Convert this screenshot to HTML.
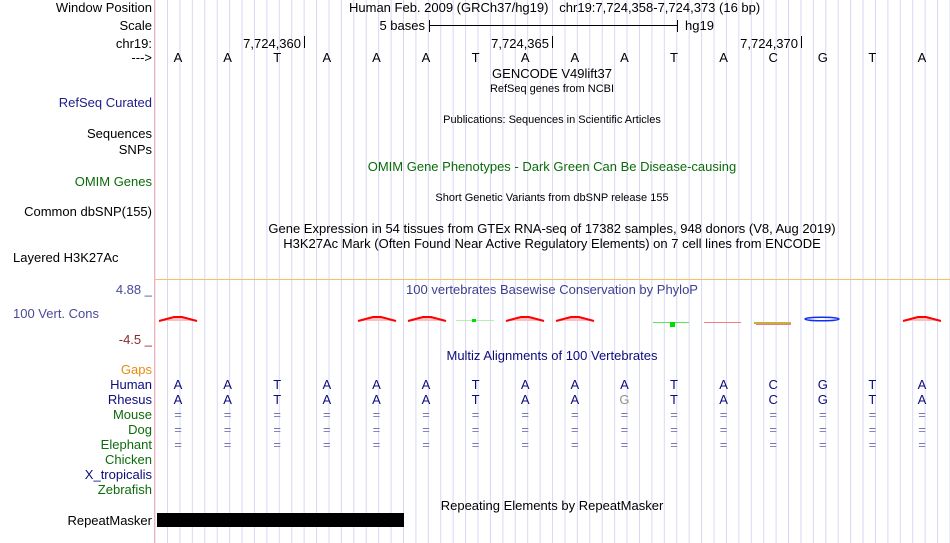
<!DOCTYPE html>
<html><head><meta charset="utf-8"><style>
html,body{margin:0;padding:0;background:#fff;width:950px;height:543px;overflow:hidden}
svg{display:block}
text{font-family:"Liberation Sans",sans-serif;font-size:13px}
.r{text-anchor:end}.c{text-anchor:middle}
.s{font-size:11px}
</style></head><body>
<svg width="950" height="543" viewBox="0 0 950 543" xmlns="http://www.w3.org/2000/svg">
<defs><pattern id="g" x="154.6" y="0" width="12.42" height="20" patternUnits="userSpaceOnUse"><rect x="0" y="0" width="1" height="20" fill="#d8d8f4"/></pattern></defs>
<rect x="155" y="0" width="795" height="543" fill="url(#g)"/>
<rect x="154" y="0" width="1" height="543" fill="#f4b0b0"/>
<rect x="155" y="279" width="795" height="1" fill="#f8c060"/>

<!-- left labels -->
<text x="152" y="12" class="r">Window Position</text>
<text x="152" y="30" class="r">Scale</text>
<text x="152" y="48" class="r">chr19:</text>
<text x="152" y="62" class="r">---&gt;</text>
<text x="152" y="107" class="r" fill="#1c1c8c">RefSeq Curated</text>
<text x="152" y="138" class="r">Sequences</text>
<text x="152" y="154" class="r">SNPs</text>
<text x="152" y="186" class="r" fill="#0b6b0b">OMIM Genes</text>
<text x="152" y="216" class="r">Common dbSNP(155)</text>
<text x="13" y="262">Layered H3K27Ac</text>
<text x="152" y="294" class="r" fill="#4a4a98">4.88 _</text>
<text x="13" y="318" fill="#4a4a98">100 Vert. Cons</text>
<text x="152" y="344" class="r" fill="#8c2a2a">-4.5 _</text>
<text x="152" y="374" class="r" fill="#e88c10">Gaps</text>
<text x="152" y="389" class="r" fill="#0c0c7c">Human</text>
<text x="152" y="404" class="r" fill="#0c0c7c">Rhesus</text>
<text x="152" y="419" class="r" fill="#0b6b0b">Mouse</text>
<text x="152" y="434" class="r" fill="#0b6b0b">Dog</text>
<text x="152" y="449" class="r" fill="#0b6b0b">Elephant</text>
<text x="152" y="464" class="r" fill="#0b6b0b">Chicken</text>
<text x="152" y="479" class="r" fill="#0c0c7c">X_tropicalis</text>
<text x="152" y="494" class="r" fill="#0b6b0b">Zebrafish</text>
<text x="152" y="525" class="r">RepeatMasker</text>

<!-- header -->
<text x="349" y="12">Human Feb. 2009 (GRCh37/hg19)&#160;&#160;&#160;chr19:7,724,358-7,724,373 (16 bp)</text>
<text x="425" y="30" class="r">5 bases</text>
<rect x="429" y="20" width="1" height="12" fill="#000"/>
<rect x="429" y="25" width="249" height="1" fill="#000"/>
<rect x="677" y="20" width="1" height="12" fill="#000"/>
<text x="685" y="30">hg19</text>
<text x="301" y="48" class="r">7,724,360</text><rect x="304" y="36" width="1" height="12" fill="#000"/>
<text x="549" y="48" class="r">7,724,365</text><rect x="552" y="36" width="1" height="12" fill="#000"/>
<text x="798" y="48" class="r">7,724,370</text><rect x="801" y="36" width="1" height="12" fill="#000"/>

<g>
<text x="178" y="62" class="c">A</text><text x="227.6" y="62" class="c">A</text><text x="277.2" y="62" class="c">T</text><text x="326.8" y="62" class="c">A</text><text x="376.4" y="62" class="c">A</text><text x="426" y="62" class="c">A</text><text x="475.6" y="62" class="c">T</text><text x="525.2" y="62" class="c">A</text><text x="574.8" y="62" class="c">A</text><text x="624.4" y="62" class="c">A</text><text x="674" y="62" class="c">T</text><text x="723.6" y="62" class="c">A</text><text x="773.2" y="62" class="c">C</text><text x="822.8" y="62" class="c">G</text><text x="872.4" y="62" class="c">T</text><text x="922" y="62" class="c">A</text>
</g>

<text x="552" y="78" class="c">GENCODE V49lift37</text>
<text x="552" y="92" class="c s">RefSeq genes from NCBI</text>
<text x="552" y="123" class="c s">Publications: Sequences in Scientific Articles</text>
<text x="552" y="171" class="c" fill="#0b6b0b">OMIM Gene Phenotypes - Dark Green Can Be Disease-causing</text>
<text x="552" y="201" class="c s">Short Genetic Variants from dbSNP release 155</text>
<text x="552" y="233" class="c">Gene Expression in 54 tissues from GTEx RNA-seq of 17382 samples, 948 donors (V8, Aug 2019)</text>
<text x="552" y="248" class="c">H3K27Ac Mark (Often Found Near Active Regulatory Elements) on 7 cell lines from ENCODE</text>
<text x="552" y="294" class="c" fill="#3e3e90">100 vertebrates Basewise Conservation by PhyloP</text>

<!-- conservation glyphs -->
<g fill="#f8c0c0" stroke="#f00" stroke-width="2">
<polyline points="159,321 174,317 182,317 197,321"/>
<polyline points="358,321 373,317 381,317 396,321"/>
<polyline points="408,321 423,317 431,317 446,321"/>
<polyline points="506,321 521,317 529,317 544,321"/>
<polyline points="556,321 571,317 579,317 594,321"/>
<polyline points="903,321 918,317 926,317 941,321"/>
</g>
<rect x="456" y="320" width="38" height="1" fill="#b0f0b0"/><rect x="472" y="319" width="4" height="3" fill="#0d0"/>
<rect x="653" y="322" width="36" height="1" fill="#60e060"/><rect x="670" y="322" width="5" height="5" fill="#0d0"/>
<rect x="704" y="322" width="37" height="1" fill="#f08080"/>
<rect x="754" y="322" width="37" height="2" fill="#c8b040"/><rect x="756" y="324" width="35" height="1" fill="#e08080"/>
<ellipse cx="822" cy="319" rx="17" ry="1.8" fill="none" stroke="#1030f0" stroke-width="1.5"/>

<text x="552" y="360" class="c" fill="#0c0c7c">Multiz Alignments of 100 Vertebrates</text>

<g fill="#0c0c7c">
<text x="178" y="389" class="c">A</text><text x="227.6" y="389" class="c">A</text><text x="277.2" y="389" class="c">T</text><text x="326.8" y="389" class="c">A</text><text x="376.4" y="389" class="c">A</text><text x="426" y="389" class="c">A</text><text x="475.6" y="389" class="c">T</text><text x="525.2" y="389" class="c">A</text><text x="574.8" y="389" class="c">A</text><text x="624.4" y="389" class="c">A</text><text x="674" y="389" class="c">T</text><text x="723.6" y="389" class="c">A</text><text x="773.2" y="389" class="c">C</text><text x="822.8" y="389" class="c">G</text><text x="872.4" y="389" class="c">T</text><text x="922" y="389" class="c">A</text>
<text x="178" y="404" class="c">A</text><text x="227.6" y="404" class="c">A</text><text x="277.2" y="404" class="c">T</text><text x="326.8" y="404" class="c">A</text><text x="376.4" y="404" class="c">A</text><text x="426" y="404" class="c">A</text><text x="475.6" y="404" class="c">T</text><text x="525.2" y="404" class="c">A</text><text x="574.8" y="404" class="c">A</text><text x="624.4" y="404" class="c" fill="#909090">G</text><text x="674" y="404" class="c">T</text><text x="723.6" y="404" class="c">A</text><text x="773.2" y="404" class="c">C</text><text x="822.8" y="404" class="c">G</text><text x="872.4" y="404" class="c">T</text><text x="922" y="404" class="c">A</text>
</g>
<g fill="#7878b8">
<text x="178" y="419" class="c">=</text><text x="227.6" y="419" class="c">=</text><text x="277.2" y="419" class="c">=</text><text x="326.8" y="419" class="c">=</text><text x="376.4" y="419" class="c">=</text><text x="426" y="419" class="c">=</text><text x="475.6" y="419" class="c">=</text><text x="525.2" y="419" class="c">=</text><text x="574.8" y="419" class="c">=</text><text x="624.4" y="419" class="c">=</text><text x="674" y="419" class="c">=</text><text x="723.6" y="419" class="c">=</text><text x="773.2" y="419" class="c">=</text><text x="822.8" y="419" class="c">=</text><text x="872.4" y="419" class="c">=</text><text x="922" y="419" class="c">=</text>
<text x="178" y="434" class="c">=</text><text x="227.6" y="434" class="c">=</text><text x="277.2" y="434" class="c">=</text><text x="326.8" y="434" class="c">=</text><text x="376.4" y="434" class="c">=</text><text x="426" y="434" class="c">=</text><text x="475.6" y="434" class="c">=</text><text x="525.2" y="434" class="c">=</text><text x="574.8" y="434" class="c">=</text><text x="624.4" y="434" class="c">=</text><text x="674" y="434" class="c">=</text><text x="723.6" y="434" class="c">=</text><text x="773.2" y="434" class="c">=</text><text x="822.8" y="434" class="c">=</text><text x="872.4" y="434" class="c">=</text><text x="922" y="434" class="c">=</text>
<text x="178" y="449" class="c">=</text><text x="227.6" y="449" class="c">=</text><text x="277.2" y="449" class="c">=</text><text x="326.8" y="449" class="c">=</text><text x="376.4" y="449" class="c">=</text><text x="426" y="449" class="c">=</text><text x="475.6" y="449" class="c">=</text><text x="525.2" y="449" class="c">=</text><text x="574.8" y="449" class="c">=</text><text x="624.4" y="449" class="c">=</text><text x="674" y="449" class="c">=</text><text x="723.6" y="449" class="c">=</text><text x="773.2" y="449" class="c">=</text><text x="822.8" y="449" class="c">=</text><text x="872.4" y="449" class="c">=</text><text x="922" y="449" class="c">=</text>
</g>

<text x="552" y="510" class="c">Repeating Elements by RepeatMasker</text>
<rect x="157" y="513" width="247" height="14" fill="#000"/>
</svg>
</body></html>
